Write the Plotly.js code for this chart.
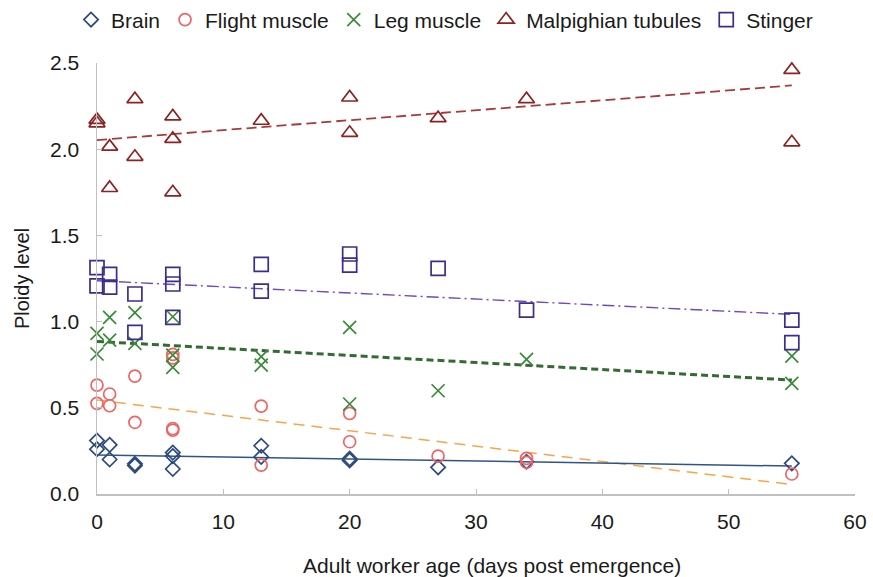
<!DOCTYPE html>
<html>
<head>
<meta charset="utf-8">
<script src="https://cdn.plot.ly/plotly-3.0.1.min.js"></script>
<style>html,body{margin:0;padding:0;background:#fff;}#chart{width:873px;height:577px;}</style>
</head>
<body>
<div id="chart"></div>
<script>
// Data
const brainX = [0, 0, 1, 1, 3, 3, 6, 6, 6, 13, 13, 20, 20, 27, 34, 55];
const brainY = [0.31, 0.26, 0.285, 0.20, 0.175, 0.165, 0.24, 0.22, 0.145, 0.28, 0.215, 0.205, 0.195, 0.155, 0.187, 0.178];

const flightX = [0, 0, 1, 1, 3, 3, 6, 6, 6, 6, 13, 13, 20, 20, 27, 34, 34, 55];
const flightY = [0.632, 0.526, 0.58, 0.512, 0.684, 0.416, 0.81, 0.79, 0.38, 0.37, 0.51, 0.168, 0.468, 0.303, 0.22, 0.207, 0.184, 0.116];

const legX = [0, 0, 1, 1, 3, 3, 6, 6, 6, 13, 13, 20, 20, 27, 34, 55, 55];
const legY = [0.932, 0.812, 1.025, 0.893, 1.052, 0.874, 1.028, 0.806, 0.735, 0.797, 0.748, 0.967, 0.522, 0.599, 0.781, 0.80, 0.642];

const malpX = [0, 0, 1, 1, 3, 3, 6, 6, 6, 13, 20, 20, 27, 34, 55, 55];
const malpY = [2.17, 2.15, 2.015, 1.775, 2.29, 1.956, 2.19, 2.06, 1.75, 2.165, 2.30, 2.095, 2.18, 2.29, 2.46, 2.04];

const stingX = [0, 0, 1, 1, 3, 3, 6, 6, 6, 13, 13, 20, 20, 27, 34, 55, 55];
const stingY = [1.313, 1.207, 1.274, 1.20, 1.16, 0.938, 1.274, 1.218, 1.025, 1.332, 1.177, 1.392, 1.328, 1.309, 1.067, 1.009, 0.878];

// Trend lines (linear fits), at ages 0 and 55
const trendX = [0, 55];
const brainTrend = [0.226, 0.162];
const flightTrend = [0.545, 0.055];
const legTrend = [0.885, 0.661];
const malpTrend = [2.053, 2.37];
const stingTrend = [1.237, 1.042];

const names = ['Brain', 'Flight muscle', 'Leg muscle', 'Malpighian tubules', 'Stinger'];
const xTicks = [0, 10, 20, 30, 40, 50, 60];
const yTicks = [0, 0.5, 1.0, 1.5, 2.0, 2.5];
const xTitle = 'Adult worker age (days post emergence)';
const yTitle = 'Ploidy level';

const FONT = 'Liberation Sans, Arial, sans-serif';
const TXT = '#1a1a1a';

function pts(x, y, name, symbol, color, size) {
  return {x: x, y: y, name: name, type: 'scatter', mode: 'markers',
    marker: {symbol: symbol, size: size, color: color, line: {color: color, width: 1.7}},
    cliponaxis: false};
}
function trend(y, color, dash, width) {
  return {x: trendX, y: y, type: 'scatter', mode: 'lines', showlegend: false, hoverinfo: 'skip',
    line: {color: color, dash: dash, width: width}};
}

const data = [
  trend(malpTrend, '#a83a3a', '10px,5px', 1.8),
  trend(stingTrend, '#7048b8', '12px,4px,2px,4px', 1.4),
  trend(legTrend, '#336b33', '7px,4px', 3),
  trend(flightTrend, '#f7a646', '11px,7px', 1.5),
  trend(brainTrend, '#2d5586', 'solid', 1.5),
  pts(brainX, brainY, names[0], 'diamond-open', '#2c4a7c', 11),
  pts(flightX, flightY, names[1], 'circle-open', '#ef6464', 12),
  pts(legX, legY, names[2], 'x-thin-open', '#3a8a3a', 13),
  pts(malpX, malpY, names[3], 'triangle-up-open', '#8b2323', 14),
  pts(stingX, stingY, names[4], 'square-open', '#3d2d8c', 14)
];

const layout = {
  width: 873, height: 577,
  margin: {l: 97, r: 18, t: 63, b: 83, pad: 0, autoexpand: false},
  paper_bgcolor: '#fff', plot_bgcolor: '#fff',
  font: {family: FONT, size: 21, color: TXT},
  showlegend: true,
  legend: {orientation: 'h', x: -0.0343, xanchor: 'left', y: 1.1, yanchor: 'middle',
    font: {family: FONT, size: 21, color: TXT}, itemwidth: 30, traceorder: 'normal',
    bgcolor: 'rgba(0,0,0,0)'},
  annotations: [{
    text: xTitle, xref: 'paper', yref: 'paper', x: 0.521, y: -0.167,
    xanchor: 'center', yanchor: 'middle', showarrow: false,
    font: {family: FONT, size: 21, color: TXT}
  }],
  xaxis: {
    range: [0, 60], tickvals: xTicks, ticktext: xTicks.map(String),
    showgrid: false, zeroline: false, showline: true, linecolor: '#c0c0c0', linewidth: 1.5,
    ticks: 'inside', ticklen: 5, tickcolor: '#c0c0c0', tickwidth: 1,
    tickfont: {family: FONT, size: 21, color: TXT}, ticklabelstandoff: 8,
    automargin: false, fixedrange: true
  },
  yaxis: {
    range: [0, 2.5], tickvals: yTicks, ticktext: yTicks.map(v => v.toFixed(1)),
    showgrid: false, zeroline: false, showline: true, linecolor: '#c0c0c0', linewidth: 1.5,
    ticks: 'inside', ticklen: 5, tickcolor: '#c0c0c0', tickwidth: 1,
    tickfont: {family: FONT, size: 21, color: TXT}, ticklabelstandoff: 12,
    title: {text: yTitle, font: {family: FONT, size: 20, color: TXT}, standoff: 15},
    automargin: false, fixedrange: true
  }
};

Plotly.newPlot('chart', data, layout, {displayModeBar: false, staticPlot: true});
</script>
</body>
</html>
